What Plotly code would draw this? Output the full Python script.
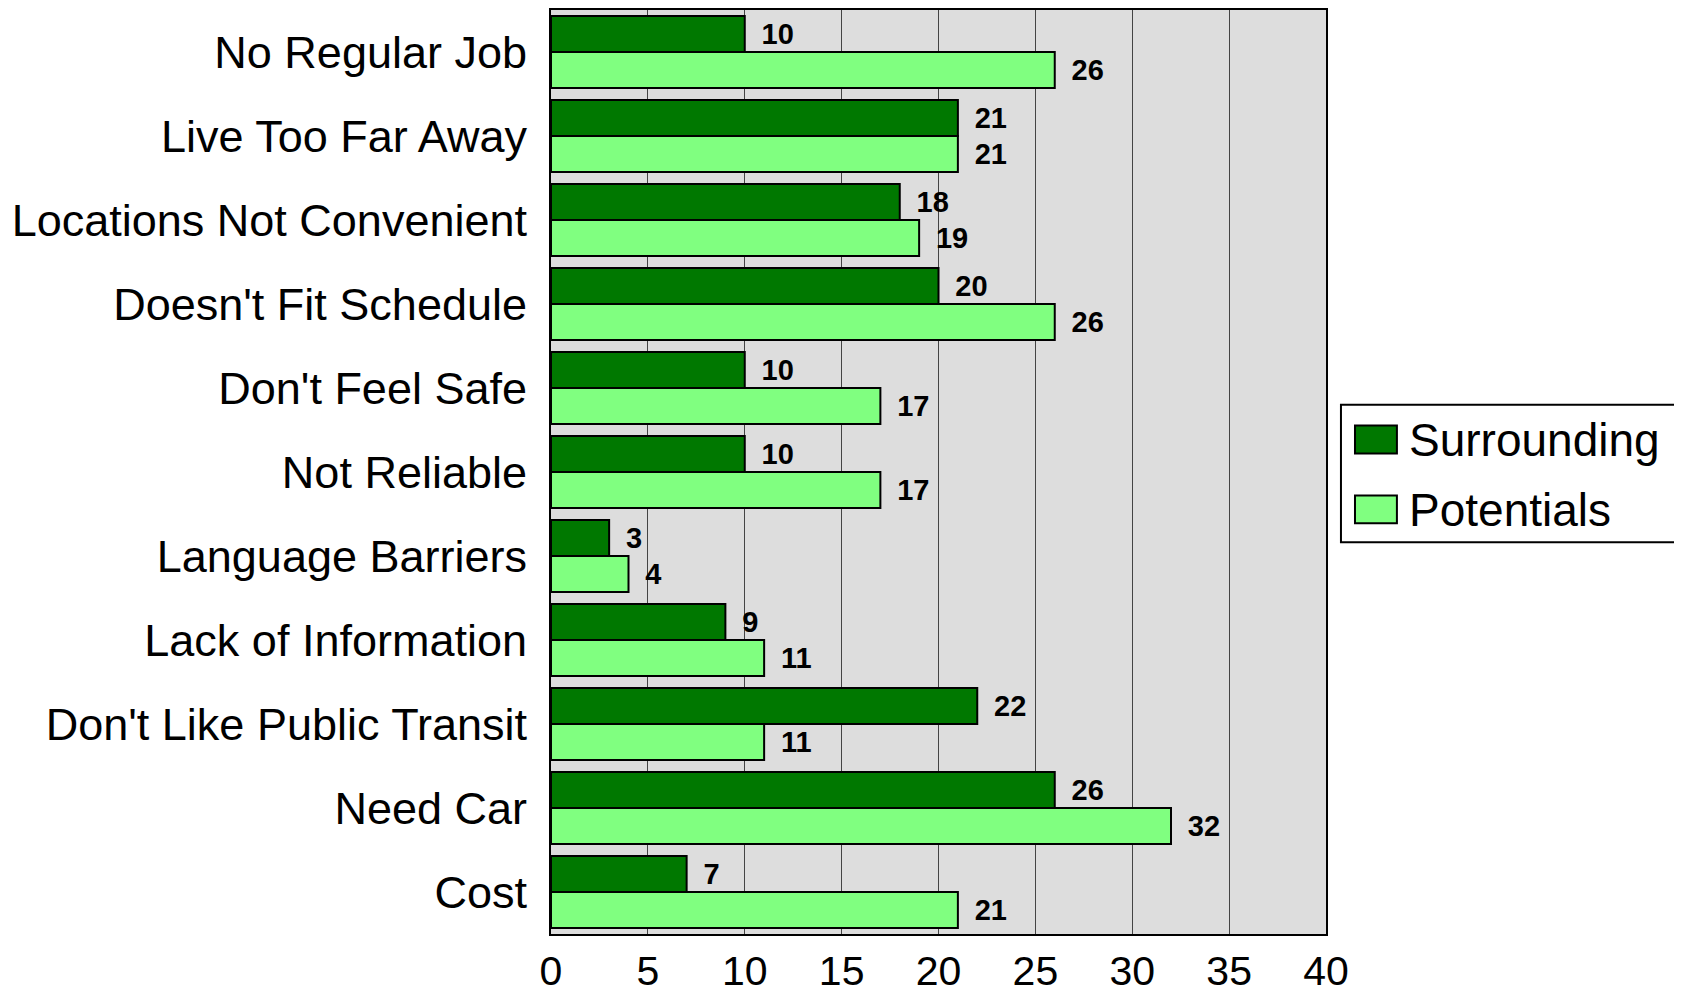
import plotly.graph_objects as go

categories = ["No Regular Job", "Live Too Far Away", "Locations Not Convenient",
              "Doesn't Fit Schedule", "Don't Feel Safe", "Not Reliable",
              "Language Barriers", "Lack of Information", "Don't Like Public Transit",
              "Need Car", "Cost"]
surrounding = [10, 21, 18, 20, 10, 10, 3, 9, 22, 26, 7]
potentials = [26, 21, 19, 26, 17, 17, 4, 11, 11, 32, 21]
series_names = ["Surrounding", "Potentials"]
series_colors = ["#007800", "#80FF80"]
x_ticks = [0, 5, 10, 15, 20, 25, 30, 35, 40]

FONT = "Liberation Sans, Arial, sans-serif"
PAD = "\u00a0\u2009"

fig = go.Figure()
for name, vals, col in zip(series_names, [surrounding, potentials], series_colors):
    fig.add_trace(go.Bar(
        y=categories, x=vals, orientation="h", name=name,
        marker=dict(color=col, line=dict(color="black", width=2)),
        text=[PAD + str(v) for v in vals], textposition="outside",
        textfont=dict(family=FONT, size=29, color="black", weight="bold"),
        cliponaxis=False, showlegend=False,
    ))

# custom legend (large swatches as in the original)
fig.add_shape(type="rect", xref="paper", yref="paper",
              x0=1.0193, x1=1.4536, y0=0.4239, y1=0.5728,
              line=dict(color="black", width=2), fillcolor="white")
sw_y = [(0.5200, 0.5502), (0.4444, 0.4746)]
tx_y = [0.5351, 0.4585]
for (y0, y1), ty, name, col in zip(sw_y, tx_y, series_names, series_colors):
    fig.add_shape(type="rect", xref="paper", yref="paper",
                  x0=1.0374, x1=1.0915, y0=y0, y1=y1,
                  line=dict(color="black", width=2), fillcolor=col)
    fig.add_annotation(xref="paper", yref="paper", x=1.1044, y=ty,
                       xanchor="left", yanchor="middle", showarrow=False,
                       text=name, font=dict(family=FONT, size=46, color="black"))

fig.update_layout(
    width=1682, height=994,
    margin=dict(l=543, r=364, t=2, b=68),
    barmode="group", bargap=0.145, bargroupgap=0,
    plot_bgcolor="#DDDDDD", paper_bgcolor="white",
    font=dict(family=FONT, color="black"),
    showlegend=False,
)
fig.update_xaxes(
    range=[0, 40], tickvals=x_ticks, ticktext=[str(v) for v in x_ticks],
    showgrid=True, gridcolor="#444444", gridwidth=1,
    showline=True, linecolor="black", linewidth=2, mirror=True,
    ticks="", tickfont=dict(family=FONT, size=41, color="black"),
    zeroline=False, automargin=False,
)
fig.update_yaxes(
    autorange="reversed", showgrid=False,
    showline=True, linecolor="black", linewidth=2, mirror=True,
    ticks="", ticklabelstandoff=13,
    tickfont=dict(family=FONT, size=45, color="black"),
)

fig.write_html("out.html")
